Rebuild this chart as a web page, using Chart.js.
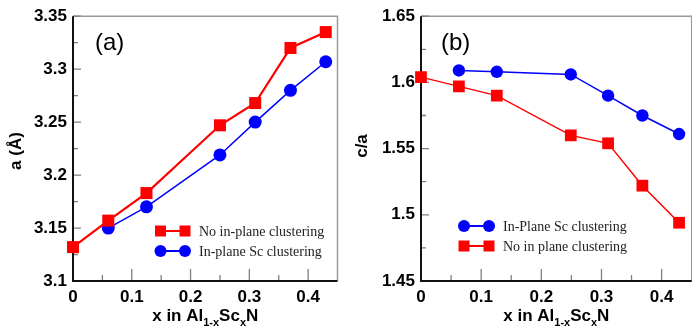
<!DOCTYPE html>
<html>
<head>
<meta charset="utf-8">
<script src="https://cdn.jsdelivr.net/npm/chart.js@4.4.1/dist/chart.umd.min.js"></script>
<style>
  html, body { margin: 0; padding: 0; background: #fff; overflow: hidden; width: 692px; height: 328px; }
  #wa { position: absolute; left: 0; top: 0; }
  #wb { position: absolute; left: 346px; top: 0; }
</style>
</head>
<body>
<div id="wa"><canvas id="ca" width="346" height="328"></canvas></div>
<div id="wb"><canvas id="cb" width="354" height="328"></canvas></div>
<script>
/* ── data ── */
var xRedA   = [0, 0.06, 0.125, 0.25, 0.31, 0.37, 0.43];
var aRed    = [3.132, 3.157, 3.183, 3.247, 3.268, 3.320, 3.335];
var xBlueA  = [0.06, 0.125, 0.25, 0.31, 0.37, 0.43];
var aBlue   = [3.150, 3.170, 3.219, 3.250, 3.280, 3.307];

var xBlueB  = [0.063, 0.126, 0.249, 0.311, 0.368, 0.429];
var caBlue  = [1.609, 1.608, 1.606, 1.590, 1.575, 1.561];
var xRedB   = [0, 0.063, 0.126, 0.249, 0.311, 0.368, 0.429];
var caRed   = [1.604, 1.597, 1.590, 1.560, 1.554, 1.522, 1.494];

var xTicks      = [0, 0.1, 0.2, 0.3, 0.4];
var xTickLabels = ['0', '0.1', '0.2', '0.3', '0.4'];
var xMinor      = [0.05, 0.15, 0.25, 0.35];
var aTicks      = [3.1, 3.15, 3.2, 3.25, 3.3, 3.35];
var aTickLabels = ['3.1', '3.15', '3.2', '3.25', '3.3', '3.35'];
var aMinor      = [3.125, 3.175, 3.225, 3.275, 3.325];
var bTicks      = [1.45, 1.5, 1.55, 1.6, 1.65];
var bTickLabels = ['1.45', '1.5', '1.55', '1.6', '1.65'];
var bMinor      = [1.475, 1.525, 1.575, 1.625];

var RED = '#ff0000', BLUE = '#0000ff';
var SANS = '"Liberation Sans", Arial, sans-serif';
var SERIF = '"Liberation Serif", "Times New Roman", serif';

function pts(xs, ys) { return xs.map(function(x, i) { return { x: x, y: ys[i] }; }); }

function drawMarker(ctx, style, x, y, r, color) {
  ctx.fillStyle = color;
  ctx.beginPath();
  if (style === 'rect') ctx.rect(x - r, y - r, 2 * r, 2 * r);
  else ctx.arc(x, y, r, 0, Math.PI * 2);
  ctx.fill();
}

/* frame, inward ticks, titles, legend */
var framePlugin = {
  id: 'frame',
  beforeDatasetsDraw: function(chart, args, o) {
    var ctx = chart.ctx, a = chart.chartArea, xs = chart.scales.x, ys = chart.scales.y;
    ctx.save();
    ctx.strokeStyle = '#9a9a9a'; ctx.lineWidth = 1.5;
    ctx.beginPath(); ctx.moveTo(a.left, a.top); ctx.lineTo(a.right, a.top); ctx.lineTo(a.right, a.bottom); ctx.stroke();

    ctx.strokeStyle = '#808080'; ctx.lineWidth = 1.3;
    ctx.beginPath();
    xTicks.forEach(function(v) { var p = xs.getPixelForValue(v); ctx.moveTo(p, a.bottom); ctx.lineTo(p, a.bottom - 12); });
    xMinor.forEach(function(v) { var p = xs.getPixelForValue(v); ctx.moveTo(p, a.bottom); ctx.lineTo(p, a.bottom - 6); });
    o.yTicks.forEach(function(v) { var p = ys.getPixelForValue(v); ctx.moveTo(a.left, p); ctx.lineTo(a.left + 8, p); });
    o.yMinor.forEach(function(v) { var p = ys.getPixelForValue(v); ctx.moveTo(a.left, p); ctx.lineTo(a.left + 5, p); });
    ctx.stroke();

    ctx.strokeStyle = '#111'; ctx.lineWidth = 2;
    ctx.beginPath(); ctx.moveTo(a.left, a.top); ctx.lineTo(a.left, a.bottom); ctx.lineTo(a.right, a.bottom); ctx.stroke();
    ctx.restore();
  },
  afterDatasetsDraw: function(chart, args, o) {
    var ctx = chart.ctx, a = chart.chartArea;
    ctx.save();
    ctx.fillStyle = '#000';

    // panel label
    ctx.font = '24px ' + SANS;
    ctx.textAlign = 'left'; ctx.textBaseline = 'alphabetic';
    ctx.fillText(o.panel, 95, 50);

    // y title
    ctx.save();
    ctx.font = 'bold 17px ' + SANS;
    ctx.textAlign = 'center';
    ctx.translate(21, o.yTitleY); ctx.rotate(-Math.PI / 2);
    ctx.fillText(o.yTitle, 0, 0);
    ctx.restore();

    // x title with subscripts
    var parts = [['x in Al', 0], ['1-x', 1], ['Sc', 0], ['x', 1], ['N', 0]];
    var mainF = 'bold 17px ' + SANS, subF = 'bold 11px ' + SANS;
    var w = 0;
    parts.forEach(function(p) { ctx.font = p[1] ? subF : mainF; w += ctx.measureText(p[0]).width; });
    var x = (a.left + a.right) / 2 - w / 2;
    ctx.textAlign = 'left';
    parts.forEach(function(p) {
      ctx.font = p[1] ? subF : mainF;
      ctx.fillText(p[0], x, p[1] ? 326 : 321);
      x += ctx.measureText(p[0]).width;
    });

    // legend
    ctx.font = '14px ' + SERIF;
    ctx.textBaseline = 'middle';
    chart.data.datasets.forEach(function(ds, i) {
      var y = o.legY + i * 20;
      ctx.strokeStyle = ds.borderColor; ctx.lineWidth = 2;
      ctx.beginPath(); ctx.moveTo(o.legX0, y); ctx.lineTo(o.legX1, y); ctx.stroke();
      var r = ds.pointStyle === 'rect' ? 5.5 : 6;
      drawMarker(ctx, ds.pointStyle, o.legX0, y, r, ds.borderColor);
      drawMarker(ctx, ds.pointStyle, o.legX1, y, r, ds.borderColor);
      ctx.fillStyle = '#222';
      ctx.fillText(ds.label, o.legX1 + 14, y + 1);
    });
    ctx.restore();
  }
};

function makeChart(id, datasets, yMin, yMax, yTicks, yLabels, yWidth, padRight, frameOpts) {
  return new Chart(document.getElementById(id), {
    type: 'scatter',
    data: { datasets: datasets },
    options: {
      responsive: false, animation: false,
      layout: { padding: { top: 15, right: padRight, bottom: 0, left: 0 } },
      plugins: { legend: { display: false }, tooltip: { enabled: false }, frame: frameOpts },
      scales: {
        x: {
          type: 'linear', min: 0, max: 0.45,
          afterBuildTicks: function(s) { s.ticks = xTicks.map(function(v) { return { value: v }; }); },
          afterFit: function(s) { s.height = 47; },
          ticks: { color: '#000', padding: 6, font: { family: SANS, size: 17, weight: 'bold' },
                   maxRotation: 0, autoSkip: false,
                   callback: function(v, i) { return xTickLabels[i]; } },
          grid: { display: false, drawTicks: false }, border: { display: false }
        },
        y: {
          type: 'linear', min: yMin, max: yMax,
          afterBuildTicks: function(s) { s.ticks = yTicks.map(function(v) { return { value: v }; }); },
          afterFit: function(s) { s.width = yWidth; },
          ticks: { color: '#000', padding: 6, font: { family: SANS, size: 17, weight: 'bold' },
                   autoSkip: false,
                   callback: function(v, i) { return yLabels[i]; } },
          grid: { display: false, drawTicks: false }, border: { display: false }
        }
      }
    },
    plugins: [framePlugin]
  });
}

function ds(label, data, color, style, r, lw) {
  return { label: label, data: data, showLine: true, borderColor: color, backgroundColor: color,
           pointStyle: style, pointRadius: r, pointBorderWidth: 0, borderWidth: lw, clip: false };
}

makeChart('ca', [
  ds('No in-plane clustering', pts(xRedA, aRed), RED, 'rect', 8.5, 2.2),
  ds('In-plane Sc clustering', pts(xBlueA, aBlue), BLUE, 'circle', 6.5, 1.5)
], 3.1, 3.35, aTicks, aTickLabels, 73, 6,
  { panel: '(a)', yTitle: 'a (\u00c5)', yTitleY: 151, yTicks: aTicks, yMinor: aMinor, legX0: 160.5, legX1: 185, legY: 231 });

makeChart('cb', [
  ds('In-Plane Sc clustering', pts(xBlueB, caBlue), BLUE, 'circle', 6.2, 1.5),
  ds('No in plane clustering', pts(xRedB, caRed), RED, 'rect', 8.3, 1.5)
], 1.45, 1.65, bTicks, bTickLabels, 75, 5,
  { panel: '(b)', yTitle: 'c/a', yTitleY: 146, yTicks: bTicks, yMinor: bMinor, legX0: 118, legX1: 143, legY: 226 });
</script>
</body>
</html>
